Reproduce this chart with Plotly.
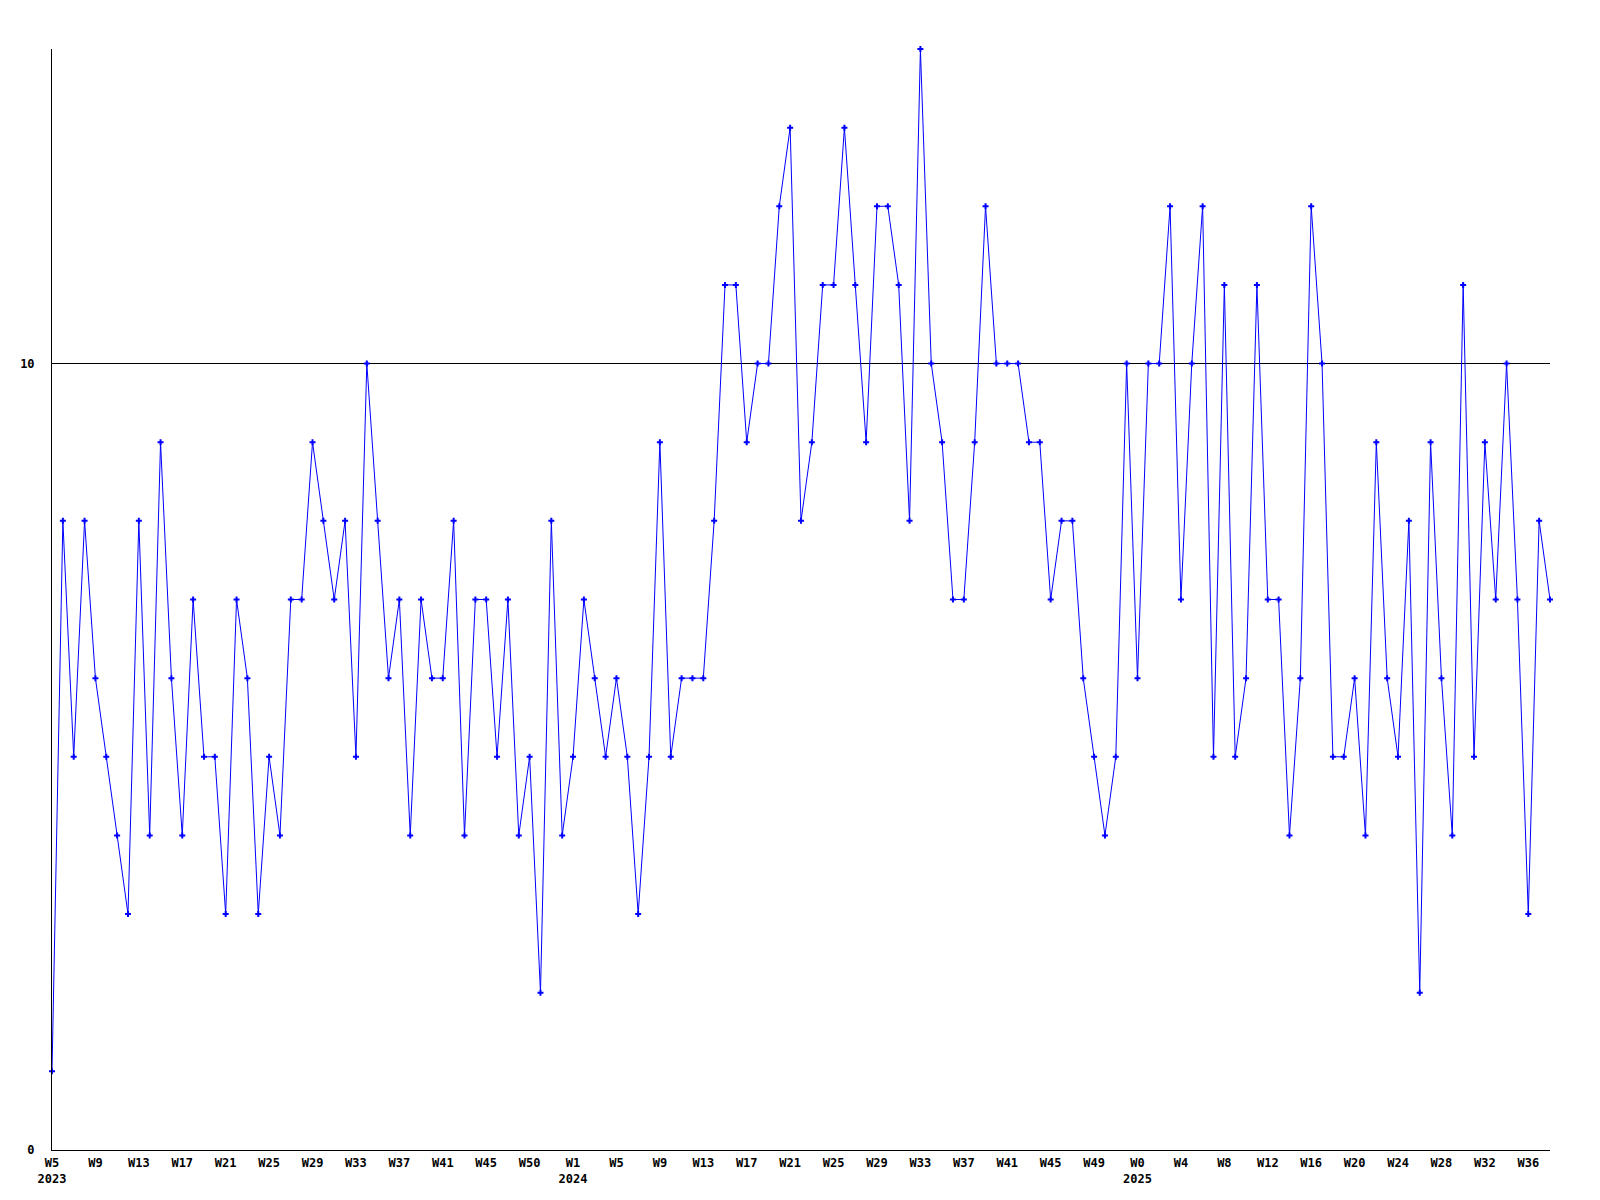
import plotly.graph_objects as go

# weekly counts, 2023 W5 .. 2025 W38
values = [
    1, 8, 5, 8, 6, 5, 4, 3, 8, 4, 9, 6, 4, 7, 5, 5, 3, 7, 6, 3,
    5, 4, 7, 7, 9, 8, 7, 8, 5, 10, 8, 6, 7, 4, 7, 6, 6, 8, 4, 7,
    7, 5, 7, 4, 5, 2, 8, 4, 5, 7, 6, 5, 6, 5, 3, 5, 9, 5, 6, 6,
    6, 8, 11, 11, 9, 10, 10, 12, 13, 8, 9, 11, 11, 13, 11, 9, 12, 12, 11, 8,
    14, 10, 9, 7, 7, 9, 12, 10, 10, 10, 9, 9, 7, 8, 8, 6, 5, 4, 5, 10,
    6, 10, 10, 12, 7, 10, 12, 5, 11, 5, 6, 11, 7, 7, 4, 6, 12, 10, 5, 5,
    6, 4, 9, 6, 5, 8, 2, 9, 6, 4, 11, 5, 9, 7, 10, 7, 3, 8, 7,
]

week_labels = [
    "W5<br>2023", "W9", "W13", "W17", "W21", "W25", "W29", "W33", "W37", "W41", "W45", "W50",
    "W1<br>2024", "W5", "W9", "W13", "W17", "W21", "W25", "W29", "W33", "W37", "W41", "W45", "W49",
    "W0<br>2025", "W4", "W8", "W12", "W16", "W20", "W24", "W28", "W32", "W36",
]

x = list(range(len(values)))
tick_pos = list(range(0, len(values), 4))[:len(week_labels)]

fig = go.Figure(go.Scatter(
    x=x, y=values,
    mode='lines+markers',
    line=dict(color='#0000FF', width=1),
    marker=dict(symbol='cross', size=5, color='#0000FF', line=dict(width=0)),
    cliponaxis=False,
    hoverinfo='y',
))

mono = dict(family='DejaVu Sans Mono', size=12, color='#000000', weight='bold')

# page body has an 8px margin, so offsets are shifted by that
fig.update_layout(
    width=1600, height=1200,
    plot_bgcolor='white', paper_bgcolor='white',
    margin=dict(l=42, r=58, t=41, b=58),
    showlegend=False,
    font=mono,
)
fig.update_xaxes(
    range=[0, len(values) - 1],
    tickvals=tick_pos, ticktext=week_labels,
    tickfont=mono, showgrid=False, zeroline=False,
    showline=True, linecolor='#000000', linewidth=1,
    ticks='', ticklabelstandoff=2,
)
fig.update_yaxes(
    range=[0, 14],
    tickvals=[0, 10], ticktext=['0', '10'],
    tickfont=mono, showgrid=True, gridcolor='#000000', gridwidth=1,
    zeroline=False, showline=True, linecolor='#000000', linewidth=1,
    ticks='', ticklabelstandoff=14,
)

fig.write_html("out.html")
